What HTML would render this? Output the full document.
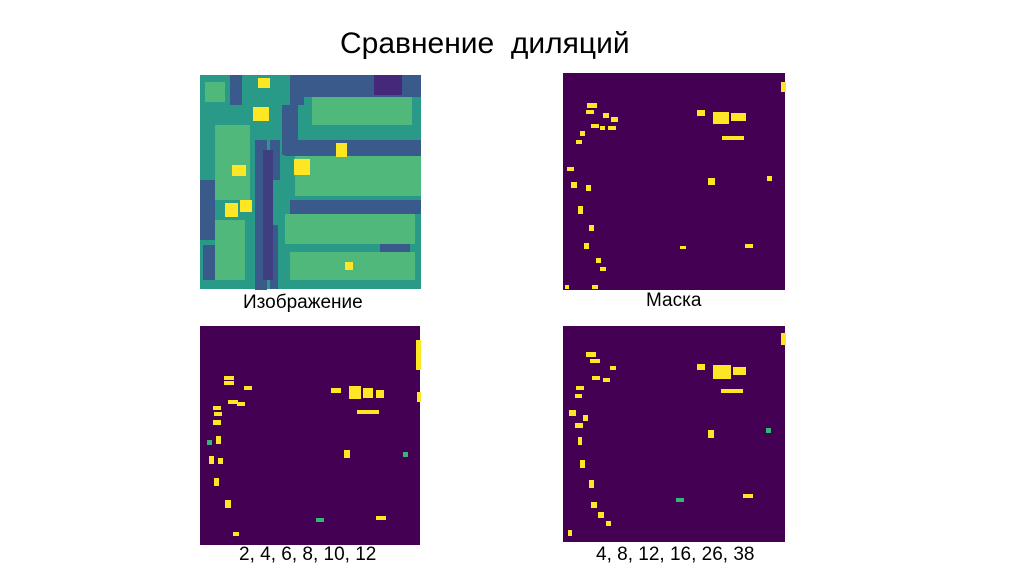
<!DOCTYPE html>
<html><head><meta charset="utf-8"><style>
body{margin:0;width:1024px;height:574px;background:#fff;position:relative;overflow:hidden;font-family:"Liberation Sans",sans-serif}
.t{position:absolute;white-space:nowrap;color:#000}
svg{position:absolute;left:0;top:0}
</style></head><body>
<div class="t" style="left:340px;top:27px;font-size:30px">Сравнение&nbsp; диляций</div>
<div class="t" style="left:243px;top:292px;font-size:19px">Изображение</div>
<div class="t" style="left:646px;top:290px;font-size:19px">Маска</div>
<div class="t" style="left:239px;top:544px;font-size:19px">2, 4, 6, 8, 10, 12</div>
<div class="t" style="left:596px;top:544px;font-size:19px">4, 8, 12, 16, 26, 38</div>
<svg width="1024" height="574">
<rect x="200" y="75" width="221" height="214" fill="#2a9a88"/>
<g fill="#3b5a8c">
<rect x="230" y="75" width="12" height="30"/><rect x="290" y="75" width="14" height="30"/>
<rect x="282" y="105" width="16" height="50"/><rect x="200" y="180" width="15" height="60"/>
<rect x="255" y="140" width="12" height="150"/><rect x="270" y="140" width="10" height="40"/>
<rect x="203" y="245" width="25" height="35"/><rect x="270" y="225" width="8" height="64"/>
<rect x="300" y="75" width="121" height="22"/><rect x="285" y="140" width="136" height="16"/>
<rect x="290" y="200" width="131" height="14"/><rect x="380" y="220" width="30" height="35"/>
</g>
<rect x="374" y="75" width="28" height="20" fill="#46287a"/>
<rect x="263" y="150" width="10" height="130" fill="#3e3e80"/>
<g fill="#4fb87a">
<rect x="312" y="97" width="100" height="28"/><rect x="295" y="156" width="126" height="40"/>
<rect x="285" y="214" width="130" height="30"/><rect x="290" y="252" width="125" height="28"/>
<rect x="215" y="125" width="35" height="75"/><rect x="215" y="220" width="30" height="60"/>
<rect x="205" y="82" width="20" height="20"/>
</g>
<g fill="#fde725">
<rect x="258" y="78" width="12" height="10"/><rect x="253" y="107" width="16" height="14"/>
<rect x="232" y="165" width="14" height="11"/><rect x="294" y="159" width="16" height="16"/>
<rect x="336" y="143" width="11" height="14"/><rect x="225" y="203" width="13" height="14"/>
<rect x="240" y="200" width="12" height="12"/><rect x="345" y="262" width="8" height="8"/>
</g>
<rect x="563" y="73" width="222" height="217" fill="#440154"/>
<rect x="200" y="326" width="220" height="219" fill="#440154"/>
<rect x="563" y="326" width="222" height="216" fill="#440154"/>
<g fill="#fde725">
<rect x="587" y="103" width="10" height="5"/><rect x="586" y="110" width="8" height="4"/><rect x="603" y="113" width="6" height="5"/><rect x="611" y="117" width="7" height="5"/><rect x="591" y="124" width="8" height="4"/><rect x="600" y="126" width="5" height="4"/><rect x="608" y="126" width="8" height="4"/><rect x="580" y="131" width="5" height="5"/><rect x="576" y="140" width="6" height="4"/><rect x="567" y="167" width="7" height="4"/><rect x="571" y="182" width="6" height="6"/><rect x="586" y="185" width="5" height="6"/><rect x="578" y="206" width="5" height="8"/><rect x="589" y="225" width="5" height="6"/><rect x="584" y="243" width="5" height="6"/><rect x="596" y="258" width="5" height="5"/><rect x="600" y="267" width="6" height="4"/><rect x="592" y="285" width="6" height="4"/><rect x="697" y="110" width="8" height="6"/><rect x="713" y="112" width="16" height="12"/><rect x="731" y="113" width="15" height="8"/><rect x="722" y="136" width="22" height="4"/><rect x="708" y="178" width="7" height="7"/><rect x="767" y="176" width="5" height="5"/><rect x="680" y="246" width="6" height="3"/><rect x="745" y="244" width="8" height="4"/><rect x="781" y="82" width="5" height="10"/><rect x="565" y="285" width="4" height="4"/>
<rect x="224" y="376" width="10" height="4"/><rect x="224" y="381" width="10" height="4"/><rect x="244" y="386" width="8" height="4"/><rect x="228" y="400" width="10" height="4"/><rect x="237" y="402" width="8" height="4"/><rect x="213" y="406" width="8" height="4"/><rect x="214" y="412" width="8" height="4"/><rect x="213" y="420" width="8" height="5"/><rect x="216" y="436" width="5" height="8"/><rect x="209" y="456" width="5" height="8"/><rect x="218" y="458" width="5" height="6"/><rect x="214" y="478" width="5" height="8"/><rect x="225" y="500" width="6" height="8"/><rect x="233" y="532" width="6" height="4"/><rect x="331" y="388" width="10" height="5"/><rect x="349" y="386" width="12" height="13"/><rect x="363" y="388" width="10" height="10"/><rect x="376" y="390" width="8" height="8"/><rect x="357" y="410" width="22" height="4"/><rect x="344" y="450" width="6" height="8"/><rect x="376" y="516" width="10" height="4"/><rect x="416" y="340" width="5" height="30"/><rect x="417" y="392" width="4" height="10"/>
<rect x="586" y="352" width="10" height="5"/><rect x="590" y="359" width="10" height="4"/><rect x="592" y="376" width="8" height="4"/><rect x="603" y="378" width="7" height="4"/><rect x="610" y="366" width="6" height="4"/><rect x="576" y="386" width="8" height="4"/><rect x="575" y="394" width="7" height="4"/><rect x="569" y="410" width="7" height="6"/><rect x="583" y="415" width="5" height="6"/><rect x="575" y="423" width="8" height="5"/><rect x="578" y="437" width="4" height="8"/><rect x="580" y="460" width="5" height="8"/><rect x="589" y="480" width="5" height="8"/><rect x="591" y="502" width="6" height="6"/><rect x="598" y="512" width="6" height="6"/><rect x="606" y="521" width="5" height="5"/><rect x="697" y="364" width="8" height="6"/><rect x="713" y="365" width="18" height="14"/><rect x="733" y="367" width="13" height="8"/><rect x="721" y="389" width="22" height="4"/><rect x="708" y="430" width="6" height="8"/><rect x="743" y="494" width="10" height="4"/><rect x="781" y="333" width="5" height="12"/><rect x="568" y="530" width="4" height="6"/>
</g>
<g fill="#35b779">
<rect x="207" y="440" width="5" height="5"/><rect x="403" y="452" width="5" height="5"/><rect x="316" y="518" width="8" height="4"/>
<rect x="766" y="428" width="5" height="5"/><rect x="676" y="498" width="8" height="4"/>
</g>
</svg>
</body></html>
